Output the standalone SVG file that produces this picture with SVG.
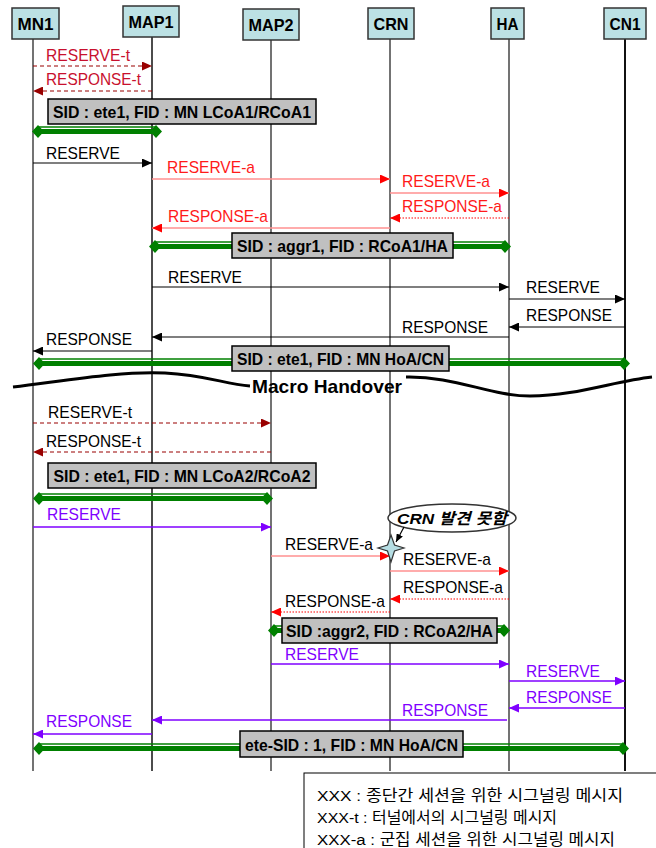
<svg xmlns="http://www.w3.org/2000/svg" width="656" height="848" viewBox="0 0 656 848">
<style>
text{font-family:"Liberation Sans","Noto Sans CJK KR",Arial,sans-serif}
.hdr rect{fill:#bce1e4;stroke:#333;stroke-width:1.5}
.hdr text{font-size:17px;font-weight:bold;text-anchor:middle;fill:#000}
.life{stroke:#444;stroke-width:1.5}
.lbl{font-size:17px}
.k{fill:#000}.r{fill:#ff1a1a}.dr{fill:#c8102e}.p{fill:#7f00ff}
.mk{stroke:#000;stroke-width:1.2;fill:none}
.mr{stroke:#ff9090;stroke-width:1.3;fill:none}
.mrd{stroke:#ff0000;stroke-width:1.2;stroke-dasharray:1.5 1.5;fill:none}
.md{stroke:#990000;stroke-width:1.2;stroke-dasharray:4 3;fill:none}
.mp{stroke:#7f00ff;stroke-width:1.3;fill:none}
.gthin{stroke:#008000;stroke-width:1.5}
.gthick{stroke:#008000;stroke-width:5}
.dia{fill:#008000}
.gbox rect{fill:#c0c0c0;stroke:#000;stroke-width:1.5}
.gbox text{font-size:17px;font-weight:bold;text-anchor:middle;fill:#000}
.leg{font-size:15.5px;fill:#000}
</style>
<defs>
<marker id="aK" markerUnits="userSpaceOnUse" markerWidth="10" markerHeight="9" refX="10" refY="4.5" orient="auto"><path d="M0,0 L10,4.5 L0,9 z" fill="#000"/></marker>
<marker id="aR" markerUnits="userSpaceOnUse" markerWidth="10" markerHeight="9" refX="10" refY="4.5" orient="auto"><path d="M0,0 L10,4.5 L0,9 z" fill="#ff0000"/></marker>
<marker id="aD" markerUnits="userSpaceOnUse" markerWidth="10" markerHeight="9" refX="10" refY="4.5" orient="auto"><path d="M0,0 L10,4.5 L0,9 z" fill="#990000"/></marker>
<marker id="aP" markerUnits="userSpaceOnUse" markerWidth="10" markerHeight="9" refX="10" refY="4.5" orient="auto"><path d="M0,0 L10,4.5 L0,9 z" fill="#7f00ff"/></marker>
<marker id="aS" markerUnits="userSpaceOnUse" markerWidth="8" markerHeight="7" refX="8" refY="3.5" orient="auto"><path d="M0,0 L8,3.5 L0,7 z" fill="#000"/></marker>
</defs>
<rect width="656" height="848" fill="#fff"/>

<g id="MN1" class="hdr"><line class="life" x1="33" y1="39" x2="33" y2="771"/><rect x="12" y="8" width="47" height="31"/><text x="35.5" y="30" textLength="36" lengthAdjust="spacingAndGlyphs">MN1</text></g>
<g id="MAP1" class="hdr"><line class="life" x1="152" y1="37" x2="152" y2="771" style="stroke:#111"/><rect x="123" y="6" width="56" height="31"/><text x="151" y="28" textLength="45" lengthAdjust="spacingAndGlyphs">MAP1</text></g>
<g id="MAP2" class="hdr"><line class="life" x1="271" y1="40" x2="271" y2="771"/><rect x="243" y="9" width="56" height="31"/><text x="271" y="31" textLength="45" lengthAdjust="spacingAndGlyphs">MAP2</text></g>
<g id="CRN" class="hdr"><line class="life" x1="390" y1="39" x2="390" y2="771"/><rect x="368" y="8" width="46" height="31"/><text x="391" y="30" textLength="35" lengthAdjust="spacingAndGlyphs">CRN</text></g>
<g id="HA" class="hdr"><line class="life" x1="509" y1="39" x2="509" y2="771"/><rect x="491" y="8" width="33" height="31"/><text x="507.5" y="30" textLength="22" lengthAdjust="spacingAndGlyphs">HA</text></g>
<g id="CN1" class="hdr"><line class="life" x1="625" y1="39" x2="625" y2="771" style="stroke:#111;stroke-width:2"/><rect x="604" y="8" width="42" height="31"/><text x="625" y="30" textLength="31" lengthAdjust="spacingAndGlyphs">CN1</text></g>

<g id="connectors">
<line class="md" x1="33" y1="66" x2="152" y2="66" marker-end="url(#aD)"/>
<text class="lbl dr" x="46" y="61" textLength="84" lengthAdjust="spacingAndGlyphs">RESERVE-t</text>
<line class="md" x1="152" y1="91" x2="33" y2="91" marker-end="url(#aD)"/>
<text class="lbl dr" x="46" y="85" textLength="95" lengthAdjust="spacingAndGlyphs">RESPONSE-t</text>

<line class="mk" x1="33" y1="163" x2="152" y2="163" marker-end="url(#aK)"/>
<text class="lbl k" x="46" y="159" textLength="74" lengthAdjust="spacingAndGlyphs">RESERVE</text>
<line class="mr" x1="152" y1="179" x2="390" y2="179" marker-end="url(#aR)"/>
<text class="lbl r" x="167" y="173" textLength="88" lengthAdjust="spacingAndGlyphs">RESERVE-a</text>
<line class="mr" x1="390" y1="193" x2="509" y2="193" marker-end="url(#aR)"/>
<text class="lbl r" x="402" y="187" textLength="88" lengthAdjust="spacingAndGlyphs">RESERVE-a</text>
<line class="mrd" x1="509" y1="218" x2="390" y2="218" marker-end="url(#aR)"/>
<text class="lbl r" x="402" y="212" textLength="100" lengthAdjust="spacingAndGlyphs">RESPONSE-a</text>
<line class="mr" x1="390" y1="228" x2="152" y2="228" marker-end="url(#aR)"/>
<text class="lbl r" x="168" y="222" textLength="100" lengthAdjust="spacingAndGlyphs">RESPONSE-a</text>

<line class="mk" x1="152" y1="287" x2="509" y2="287" marker-end="url(#aK)"/>
<text class="lbl k" x="168" y="283" textLength="74" lengthAdjust="spacingAndGlyphs">RESERVE</text>
<line class="mk" x1="509" y1="299" x2="625" y2="299" marker-end="url(#aK)"/>
<text class="lbl k" x="526" y="293" textLength="74" lengthAdjust="spacingAndGlyphs">RESERVE</text>
<line class="mk" x1="625" y1="327" x2="509" y2="327" marker-end="url(#aK)"/>
<text class="lbl k" x="526" y="321" textLength="86" lengthAdjust="spacingAndGlyphs">RESPONSE</text>
<line class="mk" x1="509" y1="337" x2="152" y2="337" marker-end="url(#aK)"/>
<text class="lbl k" x="402" y="333" textLength="86" lengthAdjust="spacingAndGlyphs">RESPONSE</text>
<line class="mk" x1="152" y1="351" x2="33" y2="351" marker-end="url(#aK)"/>
<text class="lbl k" x="46" y="345" textLength="86" lengthAdjust="spacingAndGlyphs">RESPONSE</text>

<line class="md" x1="33" y1="423" x2="271" y2="423" marker-end="url(#aD)"/>
<text class="lbl k" x="48" y="418" textLength="84" lengthAdjust="spacingAndGlyphs">RESERVE-t</text>
<line class="md" x1="271" y1="452" x2="33" y2="452" marker-end="url(#aD)"/>
<text class="lbl k" x="46" y="447" textLength="95" lengthAdjust="spacingAndGlyphs">RESPONSE-t</text>

<line class="mp" x1="33" y1="527" x2="271" y2="527" marker-end="url(#aP)"/>
<text class="lbl p" x="47" y="520" textLength="74" lengthAdjust="spacingAndGlyphs">RESERVE</text>
<line class="mr" x1="271" y1="556" x2="390" y2="556" marker-end="url(#aR)"/>
<text class="lbl k" x="285" y="550" textLength="88" lengthAdjust="spacingAndGlyphs">RESERVE-a</text>
<line class="mr" x1="390" y1="571" x2="509" y2="571" marker-end="url(#aR)"/>
<text class="lbl k" x="403" y="565" textLength="88" lengthAdjust="spacingAndGlyphs">RESERVE-a</text>
<line class="mrd" x1="509" y1="599" x2="390" y2="599" marker-end="url(#aR)"/>
<text class="lbl k" x="403" y="593" textLength="100" lengthAdjust="spacingAndGlyphs">RESPONSE-a</text>
<line class="mrd" x1="390" y1="612" x2="271" y2="612" marker-end="url(#aR)"/>
<text class="lbl k" x="285" y="607" textLength="100" lengthAdjust="spacingAndGlyphs">RESPONSE-a</text>

<line class="mp" x1="271" y1="664" x2="509" y2="664" marker-end="url(#aP)"/>
<text class="lbl p" x="285" y="660" textLength="74" lengthAdjust="spacingAndGlyphs">RESERVE</text>
<line class="mp" x1="509" y1="681" x2="625" y2="681" marker-end="url(#aP)"/>
<text class="lbl p" x="526" y="677" textLength="74" lengthAdjust="spacingAndGlyphs">RESERVE</text>
<line class="mp" x1="625" y1="708" x2="509" y2="708" marker-end="url(#aP)"/>
<text class="lbl p" x="526" y="703" textLength="86" lengthAdjust="spacingAndGlyphs">RESPONSE</text>
<line class="mp" x1="507" y1="720" x2="152" y2="720" marker-end="url(#aP)"/>
<text class="lbl p" x="402" y="716" textLength="86" lengthAdjust="spacingAndGlyphs">RESPONSE</text>
<line class="mp" x1="152" y1="734" x2="33" y2="734" marker-end="url(#aP)"/>
<text class="lbl p" x="46" y="727" textLength="86" lengthAdjust="spacingAndGlyphs">RESPONSE</text>
</g>

<g id="sessions">
<g id="s1"><line class="gthin" x1="38" y1="127" x2="156" y2="127"/><line class="gthick" x1="38" y1="131.5" x2="156" y2="131.5"/><path class="dia" d="M32,131.5 L38,125 L44,131.5 L38,138 z M150,131.5 L156,125 L162,131.5 L156,138 z"/></g>
<g id="s2"><line class="gthin" x1="155" y1="242" x2="505" y2="242"/><line class="gthick" x1="155" y1="246.5" x2="505" y2="246.5"/><path class="dia" d="M149,246.5 L155,240 L161,246.5 L155,253 z M499,246.5 L505,240 L511,246.5 L505,253 z"/></g>
<g id="s3"><line class="gthin" x1="39" y1="359" x2="624" y2="359"/><line class="gthick" x1="39" y1="363.5" x2="624" y2="363.5"/><path class="dia" d="M33,363.5 L39,357 L45,363.5 L39,370 z M618,363.5 L624,357 L630,363.5 L624,370 z"/></g>
<g id="s4"><line class="gthin" x1="39" y1="494" x2="267" y2="494"/><line class="gthick" x1="39" y1="498.5" x2="267" y2="498.5"/><path class="dia" d="M33,498.5 L39,492 L45,498.5 L39,505 z M261,498.5 L267,492 L273,498.5 L267,505 z"/></g>
<g id="s5"><line class="gthin" x1="274" y1="626" x2="504" y2="626"/><line class="gthick" x1="274" y1="630.5" x2="504" y2="630.5"/><path class="dia" d="M268,630.5 L274,624 L280,630.5 L274,637 z M498,630.5 L504,624 L510,630.5 L504,637 z"/></g>
<g id="s6"><line class="gthin" x1="39" y1="744" x2="623" y2="744"/><line class="gthick" x1="39" y1="748.5" x2="623" y2="748.5"/><path class="dia" d="M33,748.5 L39,742 L45,748.5 L39,755 z M617,748.5 L623,742 L629,748.5 L623,755 z"/></g>
</g>

<g id="box1" class="gbox"><rect x="48" y="99" width="268" height="25"/><text x="182" y="118" textLength="258" lengthAdjust="spacingAndGlyphs">SID : ete1, FID : MN LCoA1/RCoA1</text></g>
<g id="box2" class="gbox"><rect x="232" y="233" width="221" height="25"/><text x="342.5" y="252" textLength="211" lengthAdjust="spacingAndGlyphs">SID : aggr1, FID : RCoA1/HA</text></g>
<g id="box3" class="gbox"><rect x="232" y="346" width="217" height="25"/><text x="340.5" y="365" textLength="207" lengthAdjust="spacingAndGlyphs">SID : ete1, FID : MN HoA/CN</text></g>
<g id="box4" class="gbox"><rect x="48" y="463" width="268" height="25"/><text x="182" y="482" textLength="257" lengthAdjust="spacingAndGlyphs">SID : ete1, FID : MN LCoA2/RCoA2</text></g>
<g id="box5" class="gbox"><rect x="282" y="618" width="215" height="25"/><text x="389.5" y="637" textLength="207" lengthAdjust="spacingAndGlyphs">SID :aggr2, FID : RCoA2/HA</text></g>
<g id="box6" class="gbox"><rect x="240" y="731" width="223" height="26"/><text x="351.5" y="750.5" textLength="213" lengthAdjust="spacingAndGlyphs">ete-SID : 1, FID : MN HoA/CN</text></g>

<g id="handover">
<path d="M13,387 C70,380 120,371 165,373 C205,375 225,384 250,386" fill="none" stroke="#000" stroke-width="3"/>
<path d="M406,377 C455,376 490,396 530,396 C575,396 615,381 652,377" fill="none" stroke="#000" stroke-width="3"/>
<text x="252" y="392.5" font-size="18.5" font-weight="bold" textLength="150" lengthAdjust="spacingAndGlyphs">Macro Handover</text>
</g>

<g id="callout">
<ellipse cx="452" cy="518" rx="64" ry="14" fill="#fff" stroke="#333" stroke-width="1.5"/>
<text x="452" y="524" font-size="15.5" font-weight="bold" font-style="italic" text-anchor="middle" textLength="110" lengthAdjust="spacingAndGlyphs">CRN 발견 못함</text>
<line x1="404" y1="527" x2="396" y2="542" stroke="#000" stroke-width="1.2" marker-end="url(#aS)"/>
<path d="M391,535 L394.5,545 L404,548 L394.5,551 L391,562 L387.5,551 L378,548 L387.5,545 Z" fill="#b5dde3" stroke="#333" stroke-width="1.2"/>
</g>

<g id="legend">
<rect x="304" y="773" width="360" height="90" fill="#fff" stroke="#000" stroke-width="1"/>
<text class="leg" x="317" y="801" textLength="306" lengthAdjust="spacingAndGlyphs">XXX : 종단간 세션을 위한 시그널링 메시지</text>
<text class="leg" x="317" y="823" textLength="240" lengthAdjust="spacingAndGlyphs">XXX-t : 터널에서의 시그널링 메시지</text>
<text class="leg" x="317" y="845" textLength="298" lengthAdjust="spacingAndGlyphs">XXX-a : 군집 세션을 위한 시그널링 메시지</text>
</g>
</svg>
